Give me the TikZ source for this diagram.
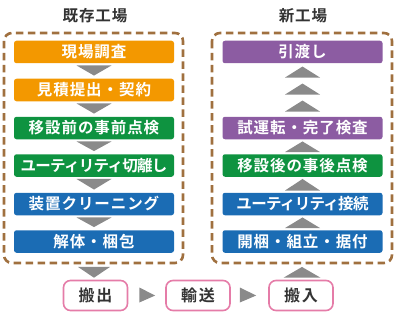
\documentclass[tikz,border=0pt]{standalone}
\usepackage{fontspec}
\setmainfont{Noto Sans CJK JP}[BoldFont={Noto Sans CJK JP Bold}]
\newfontfamily\spacedcjk{Noto Sans CJK JP Bold}[LetterSpace=6]
\newfontfamily\widecjk{Noto Sans CJK JP Bold}[LetterSpace=10]
\newfontfamily\tightcjk{Noto Sans CJK JP Bold}[LetterSpace=-4.5]
\usetikzlibrary{calc}
\definecolor{corange}{HTML}{F39800}
\definecolor{cgreen}{HTML}{0E9340}
\definecolor{cblue}{HTML}{1B6CB4}
\definecolor{cpurple}{HTML}{8C5CA2}
\definecolor{cbrown}{HTML}{A0703F}
\definecolor{cpink}{HTML}{E57CA8}
\definecolor{cgray}{HTML}{8A8A8A}
\definecolor{ctext}{HTML}{333333}
\tikzset{
  stepbox/.style={rounded corners=2.5pt, minimum width=160pt, minimum height=22.5pt, inner sep=0pt,
    text=white, font=\fontsize{15.5}{15.5}\spacedcjk},
  tightbox/.style={stepbox, font=\fontsize{15.5}{15.5}\tightcjk},
  endbox/.style={rounded corners=7pt, draw=cpink, line width=1.6pt, fill=white, minimum width=64pt,
    minimum height=30pt, inner sep=0pt, text=ctext, font=\fontsize{16}{16}\widecjk},
  frame/.style={draw=cbrown, line width=2.6pt, dash pattern=on 7.5pt off 4.5pt, rounded corners=8pt},
  title/.style={text=ctext, font=\fontsize{15.5}{15.5}\spacedcjk},
}
\begin{document}
\begin{tikzpicture}[x=1pt,y=-1pt]
\useasboundingbox (0,0) rectangle (395,318);
% titles
\node[title] (t1) at (95,16) {既存工場};
\node[title] (t2) at (303,16) {新工場};
% frames
\draw[frame] (4,33) rectangle (183,263);
\draw[frame] (212,33) rectangle (392,263);
% left boxes
\node[stepbox, fill=corange] (l1) at (94,52) {現場調査};
\node[stepbox, fill=corange] (l2) at (94,90) {見積提出・契約};
\node[stepbox, fill=cgreen] (l3) at (94,128) {移設前の事前点検};
\node[tightbox, fill=cgreen] (l4) at (94,165.5) {ユーティリティ切離し};
\node[stepbox, fill=cblue] (l5) at (94,204) {装置クリーニング};
\node[stepbox, fill=cblue] (l6) at (94,241.5) {解体・梱包};
% right boxes
\node[stepbox, fill=cpurple] (r1) at (302.5,52) {引渡し};
\node[stepbox, fill=cpurple] (r2) at (302.5,128) {試運転・完了検査};
\node[stepbox, fill=cgreen] (r3) at (302.5,165.5) {移設後の事後点検};
\node[tightbox, fill=cblue] (r4) at (302.5,204) {ユーティリティ接続};
\node[stepbox, fill=cblue] (r5) at (302.5,241.5) {開梱・組立・据付};
% bottom boxes
\node[endbox] (b1) at (95.5,295.5) {搬出};
\node[endbox] (b2) at (198,295.5) {輸送};
\node[endbox] (b3) at (301,295.5) {搬入};
% down triangles (left)
\foreach \a/\b in {l1/l2,l2/l3,l3/l4,l4/l5,l5/l6}{
  \fill[cgray] ($(\a.south)+(-17.5,2)$) -- ($(\a.south)+(17.5,2)$) -- ($(\b.north)+(0,-3)$) -- cycle;
}
\fill[cgray] ($(l6.south)+(-16,14)$) -- ($(l6.south)+(16,14)$) -- ($(b1.north)+(-1.5,-2)$) -- cycle;
% up triangles (right)
\foreach \a/\b in {r3/r2,r4/r3,r5/r4}{
  \fill[cgray] ($(\a.north)+(-17.5,-2)$) -- ($(\a.north)+(17.5,-2)$) -- ($(\b.south)+(0,2)$) -- cycle;
}
\foreach \d in {0,17,34}{
  \fill[cgray] ($(r2.north)+(-17.5,-5-\d)$) -- ($(r2.north)+(17.5,-5-\d)$) -- ($(r2.north)+(0,-16-\d)$) -- cycle;
}
\fill[cgray] ($(b3.north)+(-17.5,-2)$) -- ($(b3.north)+(19.5,-2)$) -- ($(r5.south)+(-0.5,14)$) -- cycle;
% side triangles
\fill[cgray] ($(b1.east)+(11,-8)$) -- ($(b1.east)+(11,7)$) -- ($(b2.west)+(-10,0)$) -- cycle;
\fill[cgray] ($(b2.east)+(9,-8)$) -- ($(b2.east)+(9,7)$) -- ($(b3.west)+(-12,0)$) -- cycle;
\end{tikzpicture}
\end{document}
